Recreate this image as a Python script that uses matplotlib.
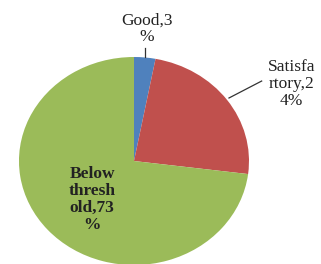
import matplotlib.pyplot as plt

labels = ["Good,3\n%", "Satisfa\nrtory,2\n4%", "Below\nthresh\nold,73\n%"]
values = [3, 24, 73]
colors = ["#4F81BD", "#C0504D", "#9BBB59"]

plt.rcParams["font.family"] = ["Liberation Serif", "DejaVu Serif"]

fig = plt.figure(figsize=(3.21, 2.64), dpi=100)
ax = fig.add_axes([0, 0, 1, 1])

ax.pie(values, colors=colors, startangle=90, counterclock=False,
       radius=1, center=(0, 0), frame=True)
ax.set_aspect("auto")
ax.set_xlim(-1.165, 1.626)
ax.set_ylim(-0.99, 1.548)
ax.axis("off")

# labels
ax.text(0.113, 1.27, labels[0], ha="center", va="center", fontsize=12.5,
        linespacing=1.05, color="#222222")
ax.plot([0.096, 0.096], [1.09, 1.0], color="#333333", lw=0.9)

ax.text(1.37, 0.74, labels[1], ha="center", va="center", fontsize=12.5,
        linespacing=1.05, color="#222222")
ax.plot([0.826, 1.11], [0.606, 0.769], color="#333333", lw=0.9)

ax.text(-0.365, -0.37, labels[2], ha="center", va="center", fontsize=12.5,
        fontweight="bold", linespacing=1.1, color="#222222")

fig.savefig("out.png", dpi=100, facecolor="white")
